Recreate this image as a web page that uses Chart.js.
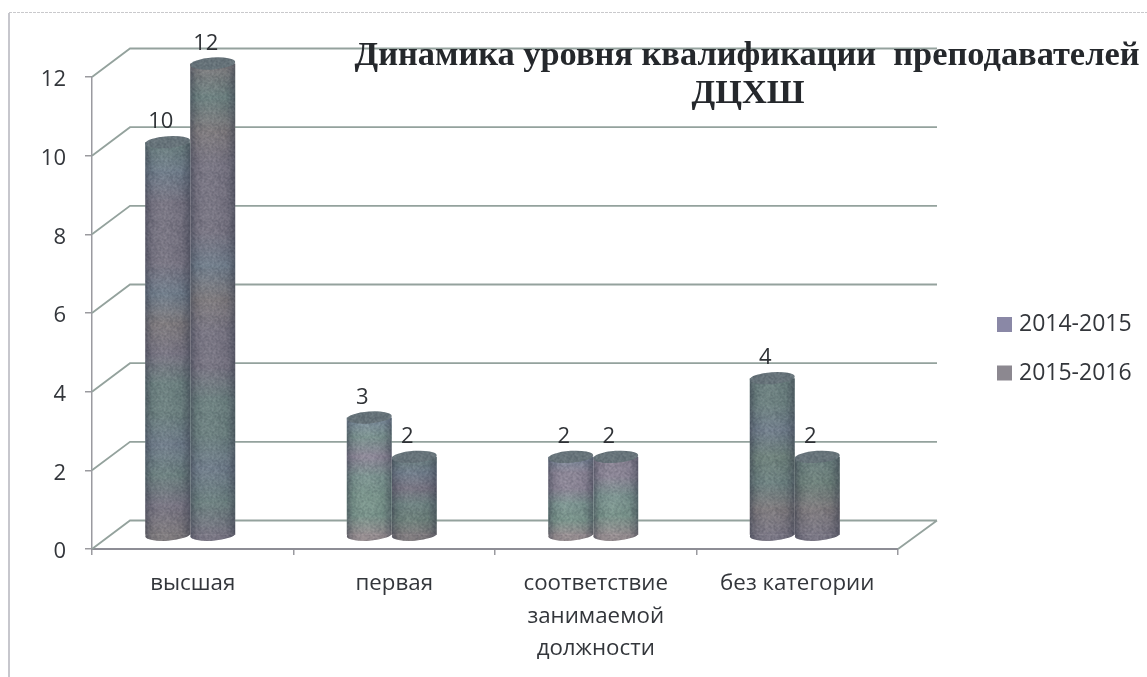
<!DOCTYPE html>
<html><head><meta charset="utf-8">
<style>html,body{margin:0;padding:0;background:#fff}canvas{display:block}</style>
<script src="https://cdn.jsdelivr.net/npm/chart.js@4/dist/chart.umd.min.js"></script>
</head><body>
<div style="width:1147px;height:677px"><canvas id="c" width="1147" height="677"></canvas></div>
<script>
const categories = [["высшая"],["первая"],["соответствие","занимаемой","должности"],["без категории"]];
const seriesNames = ["2014-2015","2015-2016"];
const values2014 = [10,3,2,4];
const values2015 = [12,2,2,2];
const titleLines = ["Динамика уровня квалификации  преподавателей","ДЦХШ"];

// appearance only: colour bands (top to bottom) of each cylinder
const T="#7b9590",B="#7e8ea0",M="#8d8697",R="#988e90",G="#79968b";
const dT="#6b817f",dB="#6f7d8b",dM="#787482",dR="#7f7a7c",dG="#6c8179";
const bands2014 = [[dT,dB,dM,dM,dM,dB,dR,dM,dT,dT,dB,dT,dM,dR],[B,T,M,T,G,G,R],[B,M,M,T,G,R],[dT,dT,dB,dG,dT,dR,dM]];
const bands2015 = [[dR,dT,dR,dM,dM,dM,dB,dR,dM,dM,dT,dT,dB,dT,dM],[dT,dB,dM,dT,dG,dR],[M,M,T,G,R],[dT,dG,dR,dM]];
const legendColors = ["#8a88a6","#8c8890"];

const SHIFT_X=-2.5, SHIFT_Y=-13.5, DEPTH_X=38, DEPTH_Y=-28.5, WALL_R=937;
const RX=22.5, RY=6, TILT=-0.07;

// deterministic grain for the scanned look
function grain(){
  const n=document.createElement('canvas');n.width=n.height=48;
  const g=n.getContext('2d');let s=12345;
  for(let y=0;y<48;y++)for(let x=0;x<48;x++){
    s=(s*1103515245+12345)&0x7fffffff;
    const v=s>>16&255;
    g.fillStyle=v>128?'rgba(30,35,50,'+(v-128)/128*0.25+')':'rgba(230,230,235,'+(128-v)/128*0.12+')';
    g.fillRect(x,y,1,1);
  }
  return n;
}
const grainCanvas=grain();

const cylinder3d={
  id:'cylinder3d',
  beforeDraw(chart){
    const c=chart.ctx;c.save();
    c.fillStyle='#fff';c.fillRect(0,0,1147,677);
    c.strokeStyle='#c9c9cc';c.lineWidth=1;c.setLineDash([3,1]);
    c.beginPath();c.moveTo(9,12.5);c.lineTo(1147,12.5);c.stroke();
    c.setLineDash([]);c.strokeStyle='#b4b4bc';c.lineWidth=1.5;
    c.beginPath();c.moveTo(9,13);c.lineTo(9,677);c.stroke();
    c.restore();
  },
  beforeDatasetsDraw(chart){
    const c=chart.ctx,y=chart.scales.y,a=chart.chartArea;
    c.save();
    y.ticks.forEach(t=>{
      const p=y.getPixelForValue(t.value);
      c.beginPath();c.moveTo(a.left,p);c.lineTo(a.left+DEPTH_X,p+DEPTH_Y);c.lineTo(WALL_R,p+DEPTH_Y);
      c.strokeStyle='#94a29d';c.lineWidth=1.8;
      if(t.value===0){c.moveTo(a.right,p);c.lineTo(WALL_R,p+DEPTH_Y);}
      c.stroke();
    });
    c.restore();
  },
  beforeDatasetDraw(chart){chart.ctx.save();chart.ctx.translate(SHIFT_X,SHIFT_Y);},
  afterDatasetDraw(chart,args){
    const c=chart.ctx,ds=args.meta.index;
    const list=ds===0?bands2014:bands2015;
    args.meta.data.forEach((bar,i)=>{
      const x=bar.x,top=bar.y,base=bar.base,b=list[i];
      // lower rim, only the part below the body
      c.save();
      c.beginPath();c.rect(x-RX-1,base-0.5,RX*2+2,RY+4);c.clip();
      c.beginPath();c.ellipse(x,base,RX,RY,TILT,0,Math.PI*2);c.fillStyle=b[b.length-1];c.fill();
      c.restore();
      // shading and grain over body and rim together
      c.save();
      c.beginPath();c.rect(x-RX,top,RX*2,base-top);c.closePath();
      c.moveTo(x+RX,base);c.ellipse(x,base,RX,RY,TILT,0,Math.PI*2);c.clip();
      const g=c.createLinearGradient(x-RX,0,x+RX,0);
      g.addColorStop(0,'rgba(50,55,70,.5)');g.addColorStop(.14,'rgba(50,55,70,.1)');
      g.addColorStop(.4,'rgba(255,255,255,.05)');g.addColorStop(.8,'rgba(50,55,70,.08)');
      g.addColorStop(1,'rgba(45,50,65,.5)');
      c.fillStyle=g;c.fillRect(x-RX,top,RX*2,base-top+RY+4);
      c.fillStyle=c.createPattern(grainCanvas,'repeat');c.fillRect(x-RX,top,RX*2,base-top+RY+4);
      c.restore();
      // upper lid
      c.save();
      c.beginPath();c.ellipse(x,top,RX,RY,TILT,0,Math.PI*2);c.fillStyle='#68757b';c.fill();
      c.clip();c.fillStyle=c.createPattern(grainCanvas,'repeat');c.fillRect(x-RX,top-RY-2,RX*2,RY*2+4);
      c.restore();
    });
    c.restore();
  },
  afterDatasetsDraw(chart){
    const c=chart.ctx;
    c.save();
    c.fillStyle='#2f3236';c.textAlign='center';c.textBaseline='middle';
    c.font='22px "Open Sans"';
    chart.data.datasets.forEach((d,di)=>{
      chart.getDatasetMeta(di).data.forEach((bar,i)=>{
        c.fillText(String(d.data[i]),bar.x-9.5,bar.y-33.5);
      });
    });
    c.textBaseline='alphabetic';
    c.fillStyle='#25282c';c.font='bold 34.4px "Liberation Serif"';
    c.fillText(titleLines[0],747,64.5);
    c.fillText(titleLines[1],748,103);
    c.textBaseline='middle';
    c.textAlign='left';c.font='23px "Open Sans"';
    seriesNames.forEach((n,i)=>{
      const my=324.5+i*48.5;
      c.fillStyle=legendColors[i];c.fillRect(997,my-7.5,15,15);
      c.fillStyle='#33363b';c.fillText(n,1019,my);
    });
    c.restore();
  }
};

function bandFill(ctx){
  const fallback=legendColors[ctx.datasetIndex];
  if(ctx.dataIndex===undefined)return fallback;
  const y=ctx.chart.scales.y;if(!y)return fallback;
  const v=(ctx.datasetIndex===0?values2014:values2015)[ctx.dataIndex];
  const list=(ctx.datasetIndex===0?bands2014:bands2015)[ctx.dataIndex];
  const t=y.getPixelForValue(v),b=y.getPixelForValue(0);
  if(!isFinite(t)||!isFinite(b))return fallback;
  const g=ctx.chart.ctx.createLinearGradient(0,t,0,b);
  list.forEach((col,i)=>g.addColorStop(i/(list.length-1),col));
  return g;
}

new Chart(document.getElementById('c'),{
  type:'bar',
  plugins:[cylinder3d],
  data:{labels:categories,datasets:[
    {label:seriesNames[0],data:values2014,backgroundColor:bandFill,clip:false,borderWidth:0},
    {label:seriesNames[1],data:values2015,backgroundColor:bandFill,clip:false,borderWidth:0}
  ]},
  options:{
    responsive:false,animation:false,
    layout:{padding:{left:0,right:249,top:77,bottom:0}},
    plugins:{legend:{display:false},title:{display:false},tooltip:{enabled:false}},
    datasets:{bar:{categoryPercentage:0.4467,barPercentage:1}},
    scales:{
      x:{
        afterFit(s){s.height=128;},
        grid:{display:true,drawOnChartArea:false,drawTicks:true,tickLength:6,color:'#9a9a9f',lineWidth:1.5},
        border:{display:true,color:'#8d8d95',width:2},
        ticks:{color:'#33363b',font:{family:'"Open Sans"',size:22.3,lineHeight:1.47},padding:12,maxRotation:0,autoSkip:false}
      },
      y:{
        min:0,max:12,
        afterFit(s){s.width=92;},
        grid:{display:true,drawOnChartArea:false,drawTicks:true,tickLength:7,color:'#9a9a9f',lineWidth:1.5},
        border:{display:true,color:'#9a9aa0',width:1.5},
        ticks:{stepSize:2,color:'#33363b',font:{family:'"Open Sans"',size:22},padding:19,labelOffset:3}
      }
    }
  }
});
</script>
</body></html>
